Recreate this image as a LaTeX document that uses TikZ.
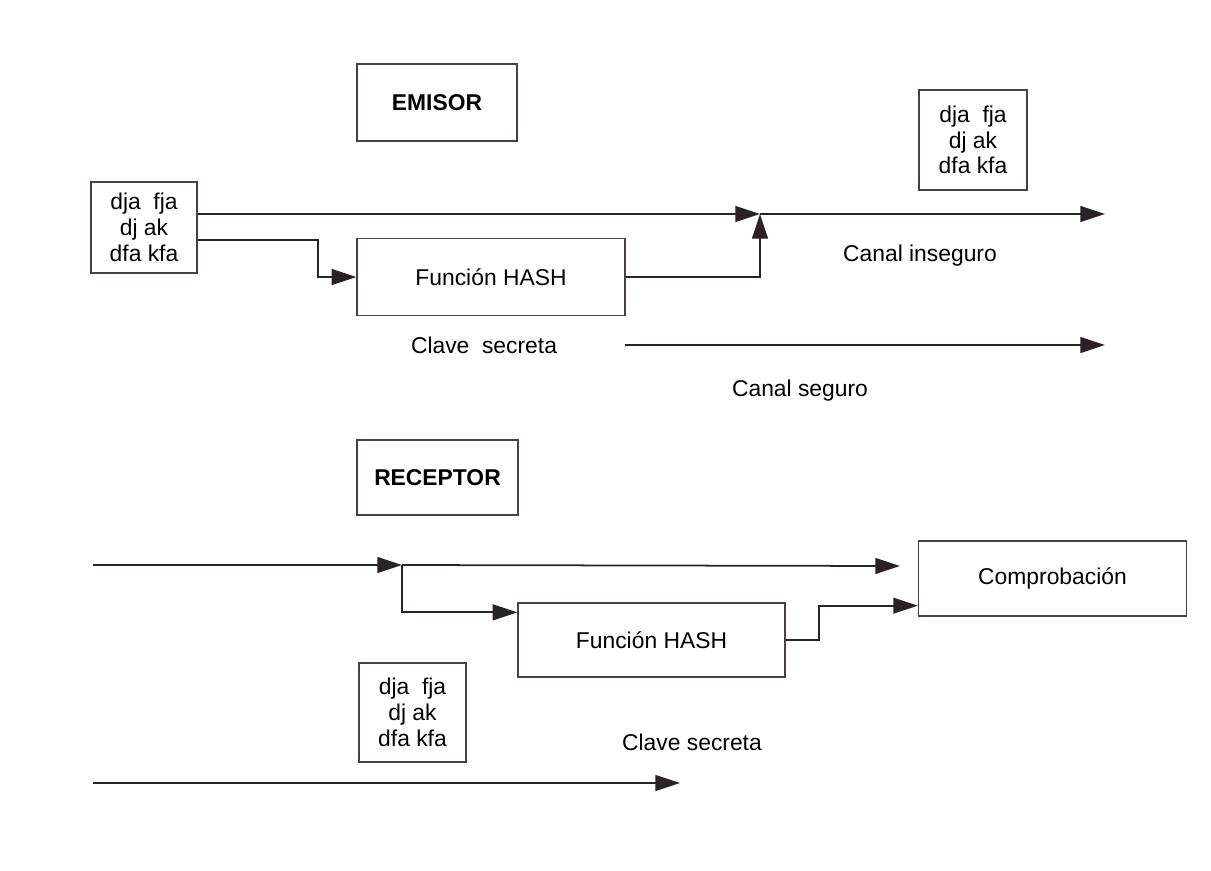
\documentclass[tikz,border=0pt]{standalone}
\usepackage{fontspec}
\setmainfont{Liberation Sans}
\usetikzlibrary{arrows.meta}
\definecolor{ink}{HTML}{2A2228}
\definecolor{frame}{HTML}{4A3E48}
\begin{document}
\begin{tikzpicture}[x=0.02cm,y=-0.02cm,
  font=\fontsize{13}{14.7}\selectfont,
  boxed/.style 2 args={draw=frame,line width=0.75pt,inner sep=0pt,
    minimum width={#1*0.02cm},minimum height={#2*0.02cm},align=center},
  label/.style={inner sep=0pt,align=center},
  arr/.style={draw=ink,line width=1pt,-{Triangle[length=14pt,width=9pt]}},
  wire/.style={draw=ink,line width=1pt}]
\useasboundingbox (0,0) rectangle (1211,870);

% ---- sender side ----
\node[boxed={160}{77},font=\fontsize{13}{14.7}\selectfont\bfseries] (emisor) at (437,102.5) {EMISOR};
\node[boxed={106}{91}] (msg1) at (144,227.5) {dja\ \ fja\\dj ak\\dfa kfa};
\node[boxed={108}{100}] (msg2) at (973,140) {dja\ \ fja\\dj ak\\dfa kfa};
\node[boxed={268}{77}] (hash1) at (491,277) {Función HASH};
\node[label] (inseg) at (920,256) {Canal inseguro};
\node[label] (key1) at (484,345) {Clave\ \ secreta};
\node[label] (seg) at (800,391) {Canal seguro};

\coordinate (j1) at (760,214);
\coordinate (out1) at (1105,214);
\coordinate (b1) at (318,240);
\coordinate (k1s) at (625,345);
\coordinate (k1e) at (1105,345);

\draw[arr] (msg1.east |- j1) -- (j1);
\draw[arr] (j1) -- (out1);
\draw[arr] (msg1.east |- b1) -- (b1) |- (hash1.west);
\draw[arr] (hash1.east) -| (j1);
\draw[arr] (k1s) -- (k1e);

% ---- receiver side ----
\node[boxed={161}{75},font=\fontsize{13}{14.7}\selectfont\bfseries] (receptor) at (437.5,477.5) {RECEPTOR};
\node[boxed={267}{74}] (hash2) at (651.5,640) {Función HASH};
\node[boxed={268}{75}] (comp) at (1052.5,578.5) {Comprobación};
\node[boxed={107}{99}] (msg3) at (412.5,712.5) {dja\ \ fja\\dj ak\\dfa kfa};
\node[label] (key2) at (692,742) {Clave secreta};

\coordinate (in2) at (93,565);
\coordinate (j2) at (402,565);
\coordinate (end2) at (900,566);
\coordinate (k2s) at (93,783);
\coordinate (k2e) at (680,783);

\draw[arr] (in2) -- (j2);
\draw[arr] (j2) -- (end2);
\draw[arr] (j2) |- ([yshift=-0.2cm]hash2.north west);
\draw[arr] (hash2.east) -- ++(33,0) |- ([yshift=0.22cm]comp.south west);
\draw[arr] (k2s) -- (k2e);
\end{tikzpicture}
\end{document}
